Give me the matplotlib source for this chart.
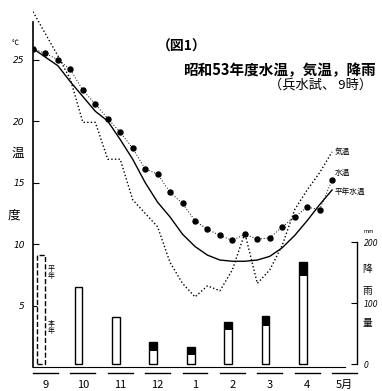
import numpy as np
import matplotlib
matplotlib.use('Agg')
import matplotlib.pyplot as plt

plt.rcParams['font.family'] = ['Noto Sans CJK JP', 'DejaVu Sans']

# ── data (x = dekad index from early Sept) ───────────────────────────────────
dekads = np.arange(25)

water = [25.9, 25.5, 25.0, 24.2, 22.5, 21.4, 20.2, 19.1, 17.8, 16.1, 15.7, 14.2,
         13.3, 11.9, 11.2, 10.7, 10.3, 10.8, 10.4, 10.5, 11.4, 12.2, 13.0, 12.8, 15.2]
air = [28.9, 27.1, 25.3, 23.4, 19.9, 19.9, 16.9, 16.9, 13.6, 12.5, 11.4, 8.5,
       6.8, 5.7, 6.6, 6.2, 7.9, 10.9, 6.8, 7.9, 9.9, 12.8, 14.4, 15.8, 17.5]
normal = [25.9, 25.2, 24.5, 23.2, 22.0, 20.8, 20.0, 18.5, 16.9, 15.0, 13.4, 12.2,
          10.8, 9.8, 9.1, 8.7, 8.6, 8.6, 8.7, 9.0, 9.7, 10.7, 11.9, 13.2, 14.4]

months = ['9', '10', '11', '12', '1', '2', '3', '4', '5月']
rain = [179, 126, 77, 36, 28, 69, 79, 167]          # mm, monthly
rain_cap = [0, 0, 0, 14, 14, 14, 16, 22]           # dark top block seen on bars

# ── figure ───────────────────────────────────────────────────────────────────
fig = plt.figure(figsize=(3.82, 3.91), dpi=100)
ax = fig.add_axes([33/382, 24/391, 324/382, 359/391])
ax.set_xlim(0, 26)
ax.set_ylim(0, 29.2)

axr = ax.twinx()
axr.set_ylim(-4.9, 583.6)

# rainfall bars
bx = 0.65 + 3*np.arange(len(rain))
for i, (x, r) in enumerate(zip(bx, rain)):
    ls = '--' if i == 0 else '-'
    axr.bar(x, r, width=0.62, facecolor='white', edgecolor='black', lw=1.0, ls=ls, zorder=1)
    if rain_cap[i]:
        axr.bar(x, rain_cap[i], bottom=r - rain_cap[i], width=0.62, color='black', zorder=2)
axr.text(1.45, 150, '平\n年', fontsize=5, ha='center', va='center', linespacing=0.9)
axr.text(1.45, 60, '本\n年', fontsize=5, ha='center', va='center', linespacing=0.9)

# temperature lines
ax.plot(dekads, air, color='black', lw=1.0, ls=(0, (1, 1.6)), zorder=3)
ax.plot(dekads, normal, color='black', lw=1.0, zorder=3)
ax.plot(dekads, water, color='black', lw=0.7, ls=(0, (1, 2)), marker='o', ms=3.6, zorder=4)

ax.text(24.2, 17.5, '気温', fontsize=5.5, va='center')
ax.text(24.2, 15.8, '水温', fontsize=5.5, va='center')
ax.text(24.2, 14.25, '平年水温', fontsize=5.5, va='center')

# axes styling
for s in ['top', 'right']:
    ax.spines[s].set_visible(False)
ax.spines['left'].set_bounds(0, 28.1)
ax.spines['left'].set_linewidth(1.2)
ax.spines['bottom'].set_bounds(0, 25)
ax.spines['bottom'].set_linewidth(0.8)
ax.set_yticks([5, 10, 15, 20, 25])
ax.set_yticklabels(['5', '10', '15', '20', '25'], family='DejaVu Sans', style='italic', fontsize=6.5)
ax.tick_params(axis='y', direction='in', length=4, width=0.8, pad=6)

ax.set_xticks(1 + 3*np.arange(len(months)))
ax.set_xticklabels(months, style='italic', fontsize=8)
ax.tick_params(axis='x', length=0, pad=9)
for m in range(len(months)):
    c = 1 + 3*m
    ax.plot([c - 1, c + 1], [-0.45, -0.45], color='black', lw=1.0, clip_on=False)

for s in ['top', 'left', 'bottom']:
    axr.spines[s].set_visible(False)
axr.spines['right'].set_bounds(0, 200)
axr.spines['right'].set_linewidth(1.0)
axr.set_yticks([0, 100, 200])
axr.set_yticklabels(['0', '100', '200'], family='DejaVu Sans', style='italic', fontsize=5.5)
axr.tick_params(axis='y', direction='in', length=4, width=0.8, pad=5)
axr.text(26.55, 215, 'mm', fontsize=4, style='italic')
axr.text(26.85, 155, '降', fontsize=7, ha='center', va='center')
axr.text(26.85, 120, '雨', fontsize=7, ha='center', va='center')
axr.text(26.85, 68, '量', fontsize=7, ha='center', va='center')

# y label and titles
fig.text(15/382, 1 - 43/391, '℃', fontsize=5, ha='center', va='center')
fig.text(18/382, 1 - 153/391, '温', fontsize=9, ha='center', va='center')
fig.text(14/382, 1 - 215/391, '度', fontsize=9, ha='center', va='center')

fig.text(182/382, 1 - 47/391, '（図1）', fontsize=10, fontweight='bold', ha='center', va='center')
fig.text(376/382, 1 - 70/391, '昭和53年度水温，気温，降雨', fontsize=10.5, fontweight='bold',
         ha='right', va='center')
fig.text(372/382, 1 - 85/391, '（兵水試、 9時）', fontsize=9.5, ha='right', va='center')

fig.savefig('out.png', dpi=100)
